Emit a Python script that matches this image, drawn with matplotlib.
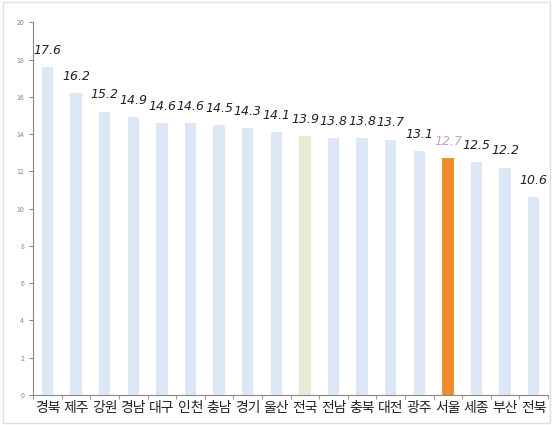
import numpy as np
import matplotlib.pyplot as plt

plt.rcParams['font.family'] = ['Noto Sans CJK KR', 'DejaVu Sans']

regions = ['경북', '제주', '강원', '경남', '대구', '인천', '충남', '경기', '울산', '전국',
           '전남', '충북', '대전', '광주', '서울', '세종', '부산', '전북']
values = [17.6, 16.2, 15.2, 14.9, 14.6, 14.6, 14.5, 14.3, 14.1, 13.9,
          13.8, 13.8, 13.7, 13.1, 12.7, 12.5, 12.2, 10.6]

colors = []
for r in regions:
    if r == '서울':
        colors.append('#f28a2e')
    elif r == '전국':
        colors.append('#e6edd6')
    else:
        colors.append('#dde7f5')

fig = plt.figure(figsize=(5.53, 4.25), dpi=100)
ax = fig.add_axes([0.06, 0.0706, 0.931, 0.877])

x = np.arange(len(regions))
ax.bar(x, values, width=0.4, color=colors)

for i, v in enumerate(values):
    c = '#c9a3b0' if regions[i] == '서울' else '#222222'
    ax.text(i, v + 0.55, f'{v}', ha='center', va='bottom', fontsize=9,
            style='italic', color=c, family='DejaVu Sans')

ax.set_xlim(-0.5, len(regions) - 0.5)
ax.set_ylim(0, 20)
ax.set_yticks(np.arange(0, 21, 2))
ax.tick_params(axis='y', labelsize=5, colors='#888888', length=3)
ax.set_xticks(x)
ax.set_xticklabels(regions, fontsize=10, color='#222222')
ax.tick_params(axis='x', length=0, pad=4)
ax.set_xticks(np.arange(-0.5, len(regions), 1), minor=True)
ax.tick_params(axis='x', which='minor', length=3, color='#888888')

for s in ['top', 'right']:
    ax.spines[s].set_visible(False)
ax.spines['left'].set_color('#888888')
ax.spines['bottom'].set_color('#888888')

fig.patches.append(plt.Rectangle((0.005, 0.005), 0.99, 0.99, transform=fig.transFigure,
                                 fill=False, edgecolor='#e0e0e0', linewidth=1))

fig.savefig('out.png', dpi=100)
